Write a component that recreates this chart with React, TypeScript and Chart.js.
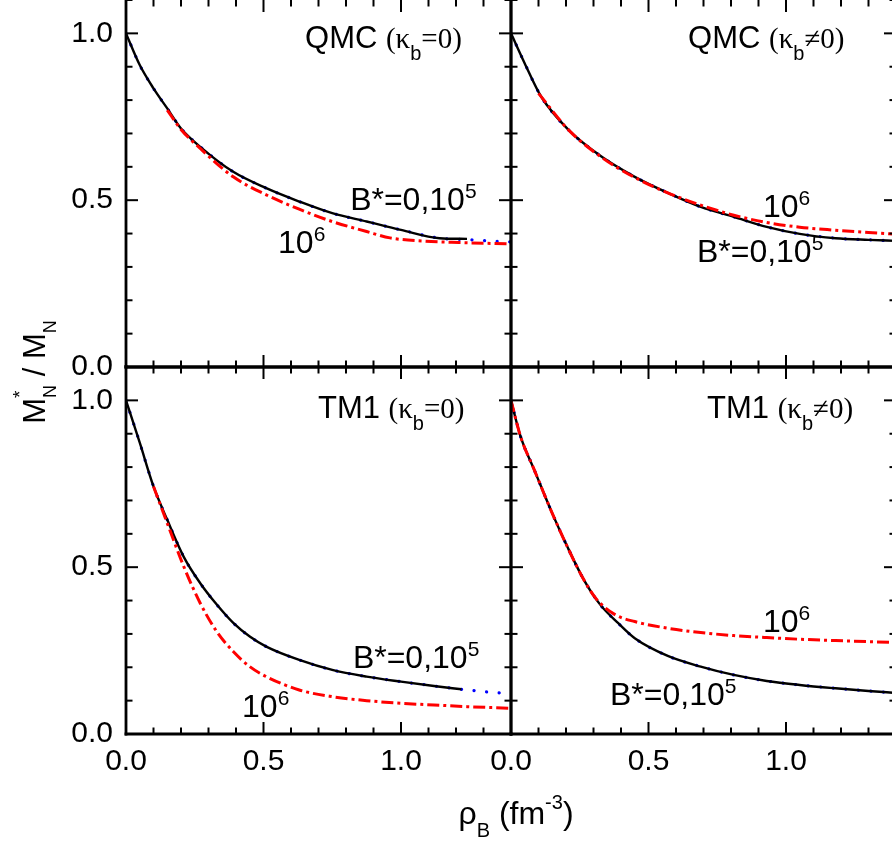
import React, { useEffect, useRef } from 'react';
import { Chart, registerables } from 'chart.js';

Chart.register(...registerables);

// ---------- axis settings ----------
const X_MIN = 0;
const X_MAX = 1.4;
const Y_MIN = 0;
const Y_MAX = 1.1;
const xTickLabels = [0, 0.5, 1.0];
const yTickLabels = [0, 0.5, 1.0];

// ---------- QMC, kappa_b = 0 (top-left) ----------
const qmcA_rho_B0 = [0, 0.05, 0.1, 0.15, 0.2, 0.27, 0.39, 0.51, 0.63, 0.75, 0.875, 0.925, 1.0, 1.14, 1.24];
const qmcA_M_B0 = [1.0, 0.905, 0.835, 0.775, 0.715, 0.66, 0.585, 0.536, 0.496, 0.461, 0.436, 0.426, 0.411, 0.386, 0.384];
const qmcA_rho_B5 = [0, 0.05, 0.1, 0.15, 0.2, 0.27, 0.39, 0.51, 0.63, 0.75, 0.875, 1.0, 1.14, 1.24, 1.3, 1.4];
const qmcA_M_B5 = [1.0, 0.905, 0.835, 0.775, 0.715, 0.66, 0.585, 0.536, 0.496, 0.461, 0.436, 0.411, 0.386, 0.382, 0.379, 0.375];
const qmcA_rho_B6 = [0.15, 0.2, 0.27, 0.39, 0.51, 0.63, 0.75, 0.875, 0.96, 1.09, 1.21, 1.4];
const qmcA_M_B6 = [0.77, 0.712, 0.655, 0.57, 0.516, 0.473, 0.436, 0.406, 0.387, 0.377, 0.373, 0.369];

// ---------- QMC, kappa_b != 0 (top-right) ----------
const qmcB_rho_B0 = [0, 0.05, 0.11, 0.21, 0.33, 0.45, 0.57, 0.69, 0.81, 0.93, 1.05, 1.18, 1.3, 1.4];
const qmcB_M_B0 = [1.0, 0.91, 0.81, 0.71, 0.63, 0.57, 0.522, 0.48, 0.45, 0.42, 0.399, 0.386, 0.381, 0.378];
const qmcB_rho_B5 = [0, 0.05, 0.11, 0.21, 0.33, 0.45, 0.57, 0.69, 0.81, 0.93, 1.05, 1.18, 1.3, 1.4];
const qmcB_M_B5 = [1.0, 0.91, 0.81, 0.71, 0.63, 0.57, 0.522, 0.48, 0.45, 0.42, 0.399, 0.386, 0.381, 0.378];
const qmcB_rho_B6 = [0.1, 0.21, 0.33, 0.45, 0.57, 0.69, 0.81, 0.93, 1.05, 1.18, 1.3, 1.4];
const qmcB_M_B6 = [0.82, 0.71, 0.628, 0.568, 0.522, 0.485, 0.455, 0.433, 0.419, 0.41, 0.403, 0.398];

// ---------- TM1, kappa_b = 0 (bottom-left) ----------
const tmA_rho_B0 = [0, 0.05, 0.1, 0.15, 0.21, 0.27, 0.33, 0.39, 0.45, 0.51, 0.63, 0.75, 0.875, 1.0, 1.12, 1.22];
const tmA_M_B0 = [1.0, 0.873, 0.742, 0.642, 0.531, 0.452, 0.388, 0.333, 0.292, 0.262, 0.222, 0.192, 0.172, 0.157, 0.144, 0.134];
const tmA_rho_B5 = [0, 0.05, 0.1, 0.15, 0.21, 0.27, 0.33, 0.39, 0.45, 0.51, 0.63, 0.75, 0.875, 1.0, 1.12, 1.22, 1.3, 1.4];
const tmA_M_B5 = [1.0, 0.873, 0.742, 0.642, 0.531, 0.452, 0.388, 0.333, 0.292, 0.262, 0.222, 0.192, 0.172, 0.157, 0.144, 0.134, 0.127, 0.121];
const tmA_rho_B6 = [0.1, 0.15, 0.21, 0.27, 0.33, 0.39, 0.45, 0.51, 0.63, 0.75, 0.875, 1.0, 1.12, 1.24, 1.4];
const tmA_M_B6 = [0.742, 0.632, 0.502, 0.392, 0.307, 0.247, 0.202, 0.172, 0.132, 0.112, 0.1, 0.092, 0.087, 0.082, 0.077];

// ---------- TM1, kappa_b != 0 (bottom-right) ----------
const tmB_rho_B0 = [0, 0.035, 0.085, 0.145, 0.205, 0.265, 0.325, 0.39, 0.45, 0.57, 0.69, 0.81, 0.93, 1.05, 1.18, 1.3, 1.4];
const tmB_M_B0 = [1.0, 0.891, 0.791, 0.671, 0.561, 0.462, 0.387, 0.332, 0.287, 0.234, 0.202, 0.177, 0.159, 0.147, 0.137, 0.129, 0.123];
const tmB_rho_B5 = [0, 0.035, 0.085, 0.145, 0.205, 0.265, 0.325, 0.39, 0.45, 0.57, 0.69, 0.81, 0.93, 1.05, 1.18, 1.3, 1.4];
const tmB_M_B5 = [1.0, 0.891, 0.791, 0.671, 0.561, 0.462, 0.387, 0.332, 0.287, 0.234, 0.202, 0.177, 0.159, 0.147, 0.137, 0.129, 0.123];
const tmB_rho_B6 = [0, 0.035, 0.085, 0.145, 0.205, 0.265, 0.31, 0.38, 0.45, 0.57, 0.69, 0.81, 0.93, 1.05, 1.18, 1.3, 1.4];
const tmB_M_B6 = [1.0, 0.891, 0.791, 0.671, 0.561, 0.462, 0.405, 0.357, 0.337, 0.317, 0.304, 0.295, 0.289, 0.284, 0.28, 0.277, 0.274];

// ---------- panel annotations (data coordinates of text start / baseline) ----------
const panelTitles = [
  { x: 'xL', y: 'yT', at: [0.651, 0.956], model: 'QMC', rel: '=0)' },
  { x: 'xR', y: 'yT', at: [0.644, 0.956], model: 'QMC', rel: '\u22600)' },
  { x: 'xL', y: 'yB', at: [0.698, 0.947], model: 'TM1', rel: '=0)' },
  { x: 'xR', y: 'yB', at: [0.713, 0.947], model: 'TM1', rel: '\u22600)' },
];
const curveLabels = [
  { x: 'xL', y: 'yT', at: [0.815, 0.471], base: 'B*=0,10', exp: '5' },
  { x: 'xL', y: 'yT', at: [0.553, 0.342], base: '10', exp: '6' },
  { x: 'xR', y: 'yT', at: [0.916, 0.45], base: '10', exp: '6' },
  { x: 'xR', y: 'yT', at: [0.676, 0.315], base: 'B*=0,10', exp: '5' },
  { x: 'xL', y: 'yB', at: [0.825, 0.198], base: 'B*=0,10', exp: '5' },
  { x: 'xL', y: 'yB', at: [0.422, 0.051], base: '10', exp: '6' },
  { x: 'xR', y: 'yB', at: [0.916, 0.306], base: '10', exp: '6' },
  { x: 'xR', y: 'yB', at: [0.36, 0.087], base: 'B*=0,10', exp: '5' },
];

const SANS = '"Liberation Sans", Arial, Helvetica, sans-serif';
const SERIF = '"Liberation Serif", "Times New Roman", serif';

const pts = (xs: number[], ys: number[]) => xs.map((x, i) => ({ x, y: ys[i] }));

function solid(xs: number[], ys: number[], xAxisID: string, yAxisID: string) {
  return {
    data: pts(xs, ys), xAxisID, yAxisID, borderColor: '#000000', borderWidth: 2.4,
    pointRadius: 0, cubicInterpolationMode: 'monotone', order: 1, fill: false,
  };
}
function dotted(xs: number[], ys: number[], xAxisID: string, yAxisID: string) {
  return {
    data: pts(xs, ys), xAxisID, yAxisID, borderColor: '#0000ff', borderWidth: 3.2,
    borderDash: [0.1, 12.5], borderCapStyle: 'round', pointRadius: 0,
    cubicInterpolationMode: 'monotone', order: 2, fill: false,
  };
}
function dashDot(xs: number[], ys: number[], xAxisID: string, yAxisID: string) {
  return {
    data: pts(xs, ys), xAxisID, yAxisID, borderColor: '#ff0000', borderWidth: 3,
    borderDash: [12, 4, 3, 4], pointRadius: 0, cubicInterpolationMode: 'monotone', order: 0, fill: false,
  };
}

type Seg = { t: string; f: string; dy?: number; overlay?: boolean };
function drawRich(ctx: CanvasRenderingContext2D, segs: Seg[], x: number, y: number) {
  let cx = x;
  let prevStart = x;
  let prevW = 0;
  for (const s of segs) {
    ctx.font = s.f;
    const w = ctx.measureText(s.t).width;
    if (s.overlay) {
      ctx.fillText(s.t, prevStart, y + (s.dy || 0));
      const nw = Math.max(prevW, w);
      cx = prevStart + nw;
      prevW = nw;
    } else {
      ctx.fillText(s.t, cx, y + (s.dy || 0));
      prevStart = cx;
      prevW = w;
      cx += w;
    }
  }
}
function richWidth(ctx: CanvasRenderingContext2D, segs: Seg[]) {
  let total = 0;
  let prevW = 0;
  for (const s of segs) {
    ctx.font = s.f;
    const w = ctx.measureText(s.t).width;
    if (s.overlay) {
      const nw = Math.max(prevW, w);
      total += nw - prevW;
      prevW = nw;
    } else {
      total += w;
      prevW = w;
    }
  }
  return total;
}

const framePlugin = {
  id: 'frame',
  afterDatasetsDraw(chart: any) {
    const ctx: CanvasRenderingContext2D = chart.ctx;
    const sc = chart.scales;
    ctx.save();
    ctx.strokeStyle = '#000';
    ctx.fillStyle = '#000';
    ctx.lineCap = 'butt';
    const line = (a: number, b: number, c: number, d: number) => {
      ctx.beginPath();
      ctx.moveTo(a, b);
      ctx.lineTo(c, d);
      ctx.stroke();
    };
    const panels = [
      [sc.xL, sc.yT, true], [sc.xR, sc.yT, true], [sc.xL, sc.yB, false], [sc.xR, sc.yB, false],
    ];
    const MAJ = 12;
    const MIN = 6.5;
    for (const [xs, ys, isTop] of panels as any) {
      const L = xs.left, R = xs.right, T = ys.top, B = ys.bottom;
      ctx.lineWidth = 2;
      for (let i = 0; i <= Math.round((X_MAX - X_MIN) * 10); i++) {
        const v = X_MIN + i / 10;
        const px = xs.getPixelForValue(v);
        const len = i % 5 === 0 ? MAJ : MIN;
        line(px, B, px, B - len);
        line(px, T, px, T + len);
      }
      for (let i = 0; i <= Math.round((Y_MAX - Y_MIN) * 10); i++) {
        const v = Y_MIN + i / 10;
        const py = ys.getPixelForValue(v);
        const len = i % 5 === 0 ? MAJ : MIN;
        line(L, py, L + len, py);
        line(R, py, R - len, py);
      }
      ctx.lineWidth = 2.8;
      line(L, T - 2, L, B + 1.4);
      line(R, T - 2, R, B + 1.4);
      line(L - 1.4, B, R + 1.4, B);
      if (!isTop) line(L - 1.4, T, R + 1.4, T);
    }

    // panel titles
    ctx.textAlign = 'left';
    ctx.textBaseline = 'alphabetic';
    for (const p of panelTitles) {
      const px = sc[p.x].getPixelForValue(p.at[0]);
      const py = sc[p.y].getPixelForValue(p.at[1]);
      drawRich(ctx, [
        { t: p.model + ' ', f: `31px ${SANS}` },
        { t: '(\u03ba', f: `29px ${SERIF}` },
        { t: 'b', f: `20px ${SANS}`, dy: 12 },
        { t: p.rel, f: `29px ${SERIF}` },
      ], px, py);
    }
    for (const c of curveLabels) {
      const px = sc[c.x].getPixelForValue(c.at[0]);
      const py = sc[c.y].getPixelForValue(c.at[1]);
      drawRich(ctx, [
        { t: c.base, f: `32px ${SANS}` },
        { t: c.exp, f: `21px ${SANS}`, dy: -12 },
      ], px, py);
    }

    // x-axis title
    const xSegs: Seg[] = [
      { t: '\u03c1', f: `32px ${SANS}` },
      { t: 'B', f: `20px ${SANS}`, dy: 13 },
      { t: ' (fm', f: `32px ${SANS}` },
      { t: '-3', f: `20px ${SANS}`, dy: -15 },
      { t: ')', f: `32px ${SANS}` },
    ];
    const xMid = (sc.xL.left + sc.xR.right) / 2 + 5;
    const xw = richWidth(ctx, xSegs);
    drawRich(ctx, xSegs, xMid - xw / 2, 824);

    // y-axis title (rotated)
    const ySegs: Seg[] = [
      { t: 'M', f: `31px ${SANS}` },
      { t: '*', f: `19px ${SANS}`, dy: -19 },
      { t: 'N', f: `18px ${SANS}`, dy: 11, overlay: true },
      { t: ' / M', f: `31px ${SANS}` },
      { t: 'N', f: `18px ${SANS}`, dy: 11 },
    ];
    const yMid = (sc.yT.top + sc.yB.bottom) / 2 + 5;
    const yw = richWidth(ctx, ySegs);
    ctx.save();
    ctx.translate(45, yMid);
    ctx.rotate(-Math.PI / 2);
    drawRich(ctx, ySegs, -yw / 2, 0);
    ctx.restore();

    ctx.restore();
  },
};

function xScale() {
  return {
    type: 'linear', position: 'bottom', stack: 'x', stackWeight: 1, min: X_MIN, max: X_MAX,
    grid: { display: false, drawTicks: false }, border: { display: false },
    afterBuildTicks: (s: any) => { s.ticks = xTickLabels.map((v) => ({ value: v })); },
    afterFit: (s: any) => { s.height = 107; s.paddingLeft = 0; s.paddingRight = 0; },
    ticks: {
      autoSkip: false, maxRotation: 0, minRotation: 0, padding: 10, color: '#000',
      font: { family: SANS, size: 30 }, callback: (v: any) => Number(v).toFixed(1),
    },
  };
}
function yScale() {
  return {
    type: 'linear', position: 'left', stack: 'y', stackWeight: 1, min: Y_MIN, max: Y_MAX,
    grid: { display: false, drawTicks: false }, border: { display: false },
    afterBuildTicks: (s: any) => { s.ticks = yTickLabels.map((v) => ({ value: v })); },
    afterFit: (s: any) => { s.width = 126; s.paddingTop = 0; s.paddingBottom = 0; },
    ticks: {
      autoSkip: false, padding: 13, color: '#000',
      font: { family: SANS, size: 30 }, callback: (v: any) => Number(v).toFixed(1),
    },
  };
}

export default function App() {
  const ref = useRef<HTMLCanvasElement>(null);
  useEffect(() => {
    const canvas = ref.current;
    if (!canvas) return;
    const datasets: any[] = [
      dotted(qmcA_rho_B5, qmcA_M_B5, 'xL', 'yT'),
      solid(qmcA_rho_B0, qmcA_M_B0, 'xL', 'yT'),
      dashDot(qmcA_rho_B6, qmcA_M_B6, 'xL', 'yT'),
      dotted(qmcB_rho_B5, qmcB_M_B5, 'xR', 'yT'),
      solid(qmcB_rho_B0, qmcB_M_B0, 'xR', 'yT'),
      dashDot(qmcB_rho_B6, qmcB_M_B6, 'xR', 'yT'),
      dotted(tmA_rho_B5, tmA_M_B5, 'xL', 'yB'),
      solid(tmA_rho_B0, tmA_M_B0, 'xL', 'yB'),
      dashDot(tmA_rho_B6, tmA_M_B6, 'xL', 'yB'),
      dotted(tmB_rho_B5, tmB_M_B5, 'xR', 'yB'),
      solid(tmB_rho_B0, tmB_M_B0, 'xR', 'yB'),
      dashDot(tmB_rho_B6, tmB_M_B6, 'xR', 'yB'),
    ];
    const chart = new Chart(canvas, {
      type: 'line',
      data: { datasets },
      options: {
        animation: false,
        responsive: false,
        layout: { padding: { left: 0, right: 8, top: 0, bottom: 0 } },
        plugins: { legend: { display: false }, tooltip: { enabled: false } },
        elements: { point: { radius: 0 } },
        // vertical stacks are placed bottom-up, so the lower panel's axis is listed first
        scales: { xL: xScale(), xR: xScale(), yB: yScale(), yT: yScale() } as any,
      },
      plugins: [framePlugin],
    } as any);
    return () => chart.destroy();
  }, []);
  return (
    <div style={{ position: 'fixed', left: 0, top: 0, width: 892, height: 841, overflow: 'hidden', background: '#fff' }}>
      <canvas ref={ref} width={904} height={841} style={{ display: 'block', width: 904, height: 841 }} />
    </div>
  );
}
